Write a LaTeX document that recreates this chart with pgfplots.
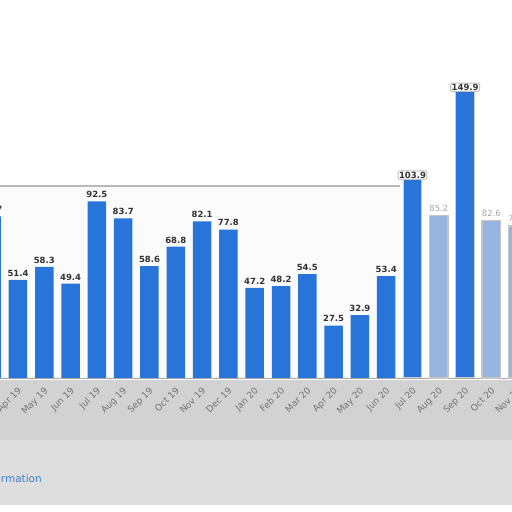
\documentclass[border=0pt]{standalone}
\usepackage{pgfplots}
\pgfplotsset{compat=1.18}
\usepackage{fontspec}
\setmainfont{DejaVu Sans}
\definecolor{barblue}{RGB}{40,116,216}
\definecolor{fadeblue}{RGB}{150,180,222}
\definecolor{bandtop}{RGB}{210,210,210}
\definecolor{bandlow}{RGB}{222,222,222}
\definecolor{labgray}{RGB}{51,51,51}
\definecolor{tickgray}{RGB}{115,115,115}
\definecolor{linkblue}{RGB}{60,125,200}
\pgfplotstableread{
x y
0 84.7
1 51.4
2 58.3
3 49.4
4 92.5
5 83.7
6 58.6
7 68.8
8 82.1
9 77.8
10 47.2
11 48.2
12 54.5
13 27.5
14 32.9
15 53.4
}\solid
\pgfplotstableread{
x y
16 103.9
18 149.9
}\boxed
\pgfplotstableread{
x y
17 85.2
19 82.6
20 79.6
}\faded
\begin{document}
\begin{tikzpicture}[x=1pt,y=1pt]
% grey band under the axis and the bottom area
\fill[bandlow] (0,7) rectangle (512,132);
\fill[bandtop] (0,72) rectangle (512,132);
\fill[gray!3] (0,134) rectangle (400,325);
\draw[gray!55, line width=1.2pt] (0,326) -- (400,326);
\node[anchor=east, font=\fontsize{10.5}{11}\selectfont, text=linkblue, inner sep=0pt] at (42,33) {Additional Information};
\begin{axis}[
  at={(0pt,134pt)}, anchor=south west,
  scale only axis, width=533.5pt, height=378pt,
  xmin=0.316, xmax=20.6, ymin=0, ymax=198.1,
  clip=false,
  axis x line=bottom, axis line style={-, gray!70, line width=0.8pt},
  hide y axis,
  ytick={25,50,75}, ymajorgrids,
  grid style={densely dotted, gray!50},
  xtick={1,...,20},
  xticklabels={Apr 19,May 19,Jun 19,Jul 19,Aug 19,Sep 19,Oct 19,Nov 19,Dec 19,Jan 20,Feb 20,Mar 20,Apr 20,May 20,Jun 20,Jul 20,Aug 20,Sep 20,Oct 20,Nov 20},
  x tick label style={rotate=45, anchor=north east, font=\fontsize{9}{10}\selectfont, text=tickgray, xshift=-3pt, yshift=-2pt},
  major tick length=0pt,
  ybar, bar width=18.5pt, bar shift=0pt,
  nodes near coords,
  nodes near coords style={font=\bfseries\fontsize{8.5}{9}\selectfont, text=labgray, /pgf/number format/fixed, /pgf/number format/precision=1, /pgf/number format/fixed zerofill},
  /pgf/number format/assume math mode=true,
]
\addplot[fill=barblue, draw=none] table {\solid};
\addplot[fill=barblue, draw=gray!40, line width=1pt,
  nodes near coords style={fill=white, draw=gray!50, rounded corners=2pt, inner sep=1pt}] table {\boxed};
\addplot[fill=fadeblue, draw=gray!45, line width=1.5pt,
  nodes near coords style={font=\fontsize{8.5}{9}\selectfont, text=gray!70}] table {\faded};
\end{axis}
\pgfresetboundingbox
\useasboundingbox (0,0) rectangle (512,512);
\end{tikzpicture}
\end{document}
